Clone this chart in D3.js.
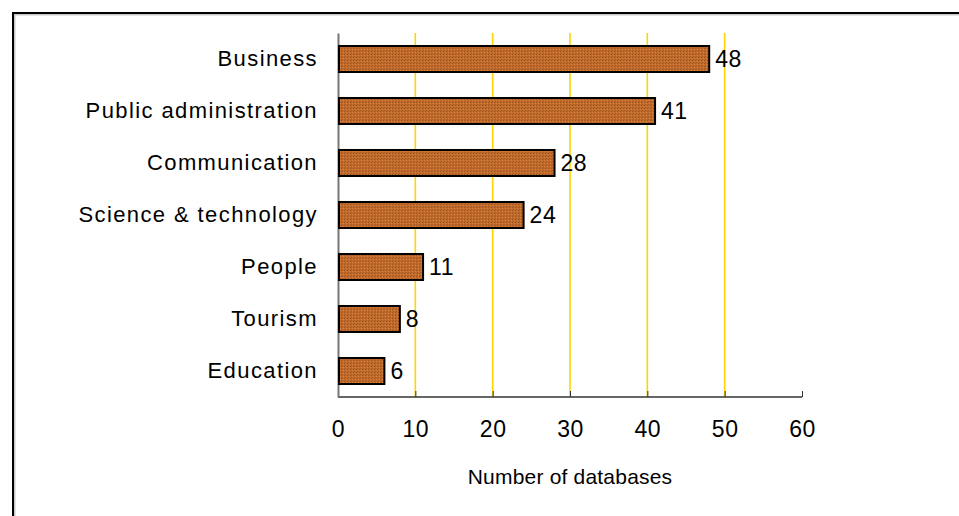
<!DOCTYPE html>
<html>
<head>
<meta charset="utf-8">
<script src="https://cdn.jsdelivr.net/npm/d3@7"></script>
<style>
  body { margin: 0; background: #fff; }
  svg text { font-family: "Liberation Sans", Arial, sans-serif; fill: #000; }
</style>
</head>
<body>
<svg id="chart" width="959" height="516"></svg>
<script>
const categories = ["Business", "Public administration", "Communication", "Science & technology", "People", "Tourism", "Education"];
const counts = [48, 41, 28, 24, 11, 8, 6];
const xTicks = [0, 10, 20, 30, 40, 50, 60];
const xLabel = "Number of databases";

const data = categories.map((c, i) => ({ name: c, value: counts[i] }));

const svg = d3.select("#chart");
const margin = { left: 338, right: 157, top: 33, bottom: 119 };
const width = +svg.attr("width");
const height = +svg.attr("height");
const innerWidth = width - margin.left - margin.right;
const innerHeight = height - margin.top - margin.bottom;

/* outer frame (only top and left edges are inside the picture) */
svg.append("path")
    .attr("d", `M14.5,${height}V14.5H${width}`)
    .attr("fill", "none").attr("stroke", "#c8c8c8").attr("stroke-width", 2);
svg.append("path")
    .attr("d", `M13,${height}V13H${width}`)
    .attr("fill", "none").attr("stroke", "#000").attr("stroke-width", 2);

/* bar texture */
const defs = svg.append("defs");
const pat = defs.append("pattern")
    .attr("id", "tex")
    .attr("patternUnits", "userSpaceOnUse")
    .attr("width", 3).attr("height", 3);
pat.append("rect").attr("width", 3).attr("height", 3).attr("fill", "#c06a2c");
pat.append("rect").attr("x", 0).attr("y", 0).attr("width", 1).attr("height", 1).attr("fill", "#9a5220");
pat.append("rect").attr("x", 2).attr("y", 1).attr("width", 1).attr("height", 1).attr("fill", "#d9843d");
pat.append("rect").attr("x", 1).attr("y", 2).attr("width", 1).attr("height", 1).attr("fill", "#a95a24");

const g = svg.append("g")
    .attr("transform", `translate(${margin.left},${margin.top})`);

const xScale = d3.scaleLinear().domain([0, 60]).range([0, innerWidth]);
const yScale = d3.scaleBand()
    .domain(categories)
    .range([0, innerHeight])
    .paddingInner(0.5)
    .paddingOuter(0.25);

/* gridlines */
g.append("g")
    .attr("class", "grid")
    .selectAll("line")
    .data(xTicks.filter(t => t > 0 && t < 60))
    .enter().append("line")
      .attr("x1", d => xScale(d))
      .attr("x2", d => xScale(d))
      .attr("y1", 0)
      .attr("y2", innerHeight)
      .style("stroke", "#ffd400")
      .style("stroke-width", "1.6px");

/* x axis */
const xAxis = d3.axisBottom(xScale)
    .tickValues(xTicks)
    .tickSize(-6)
    .tickPadding(26);
const xAxisG = g.append("g")
    .attr("transform", `translate(0,${innerHeight})`)
    .call(xAxis);
xAxisG.select(".domain").attr("stroke", "#666").attr("stroke-width", 2)
    .attr("d", `M0,0H${innerWidth}`);
xAxisG.selectAll(".tick line").attr("stroke", "#333");
xAxisG.selectAll(".tick text")
    .style("font-size", "23px")
    .style("letter-spacing", "0.5px")
    .attr("dy", "0.6em");

xAxisG.append("text")
    .attr("x", innerWidth / 2)
    .attr("y", 87)
    .style("text-anchor", "middle")
    .style("font-size", "21px")
    .style("letter-spacing", "0.2px")
    .style("fill", "#000")
    .text(xLabel);

/* y axis */
const yAxis = d3.axisLeft(yScale).tickSize(0).tickPadding(20);
const yAxisG = g.append("g").call(yAxis);
yAxisG.select(".domain").attr("stroke", "#777").attr("stroke-width", 2);
yAxisG.selectAll(".tick text")
    .style("font-size", "22px")
    .style("letter-spacing", "1.4px")
    .attr("dy", "0.3em");

/* bars */
g.selectAll(".bar").data(data)
    .enter().append("rect")
      .attr("class", "bar")
      .attr("x", xScale(0) + 1)
      .attr("y", d => yScale(d.name))
      .attr("width", d => xScale(d.value) - 1)
      .attr("height", yScale.bandwidth())
      .attr("fill", "url(#tex)")
      .attr("stroke", "#000")
      .attr("stroke-width", 2);

/* value labels */
g.selectAll(".val").data(data)
    .enter().append("text")
      .attr("class", "val")
      .attr("x", d => xScale(d.value) + 6)
      .attr("y", d => yScale(d.name) + yScale.bandwidth() / 2)
      .attr("dy", "0.33em")
      .style("font-size", "23px")
      .style("letter-spacing", "0.5px")
      .text(d => d.value);
</script>
</body>
</html>
